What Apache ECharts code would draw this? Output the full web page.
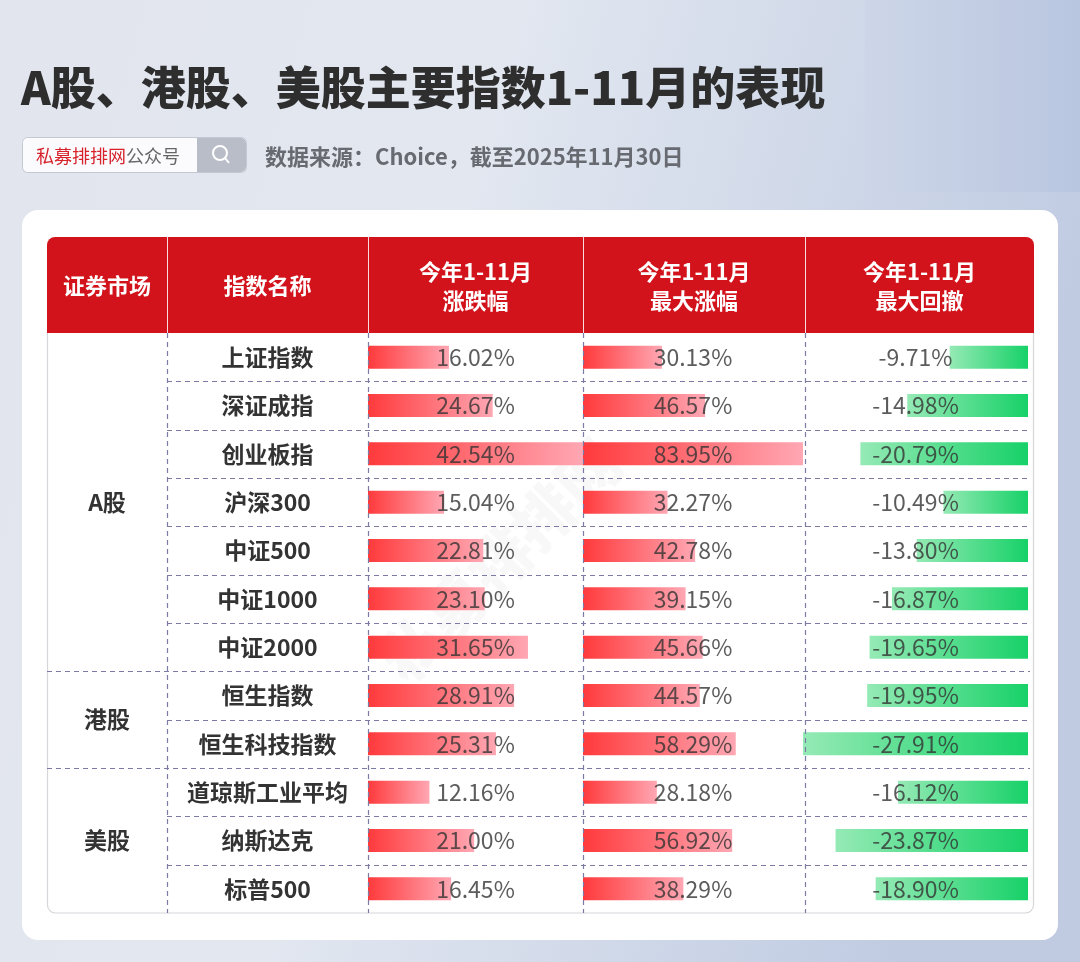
<!DOCTYPE html>
<html><head><meta charset="utf-8">
<script src="https://cdn.jsdelivr.net/npm/echarts@6/dist/echarts.min.js"></script>
<style>html,body{margin:0;padding:0;width:1080px;height:962px;overflow:hidden}#c{width:1080px;height:962px}</style>
</head><body><div id="c"></div>
<script>
// ---- data ----
const markets = ['A股', '港股', '美股'];
const marketCounts = [7, 2, 3];
const indexNames = ['上证指数', '深证成指', '创业板指', '沪深300', '中证500', '中证1000', '中证2000', '恒生指数', '恒生科技指数', '道琼斯工业平均', '纳斯达克', '标普500'];
const ytdChange = [16.02, 24.67, 42.54, 15.04, 22.81, 23.10, 31.65, 28.91, 25.31, 12.16, 21.00, 16.45];
const maxGain = [30.13, 46.57, 83.95, 32.27, 42.78, 39.15, 45.66, 44.57, 58.29, 28.18, 56.92, 38.29];
const maxDrawdown = [-9.71, -14.98, -20.79, -10.49, -13.80, -16.87, -19.65, -19.95, -27.91, -16.12, -23.87, -18.90];
const headers = ['证券市场', '指数名称', '今年1-11月\n涨跌幅', '今年1-11月\n最大涨幅', '今年1-11月\n最大回撤'];
const titleText = 'A股、港股、美股主要指数1-11月的表现';
const sourceText = '数据来源：Choice，截至2025年11月30日';

// ---- layout ----
const FONT = '"Noto Sans CJK SC", "Noto Sans", sans-serif';
const colX = [47, 167, 368, 583, 805, 1034];
const HEAD_T = 237, BODY_T = 333, BODY_B = 913;
const N = indexNames.length;
const ROWH = (BODY_B - BODY_T) / N;
const DASH = '#7b7ba6';

const chart = echarts.init(document.getElementById('c'), null, {renderer: 'canvas'});

const redGrad = new echarts.graphic.LinearGradient(0, 0, 1, 0, [
  {offset: 0, color: '#ff3a3c'}, {offset: 1, color: '#ffa7b3'}]);
const greenGrad = new echarts.graphic.LinearGradient(0, 0, 1, 0, [
  {offset: 0, color: '#95eab5'}, {offset: 1, color: '#17d168'}]);

const gridDefs = [
  {left: colX[2], width: colX[3] - colX[2], min: 0, max: Math.max(...ytdChange), vals: ytdChange, color: redGrad},
  {left: colX[3], width: 803 - colX[3], min: 0, max: Math.max(...maxGain), vals: maxGain, color: redGrad},
  {left: 803, width: 1028 - 803, min: Math.min(...maxDrawdown), max: 0, vals: maxDrawdown, color: greenGrad}
];

const grids = [], xAxes = [], yAxes = [], series = [];
gridDefs.forEach((g, k) => {
  grids.push({left: g.left, width: g.width, top: BODY_T, height: BODY_B - BODY_T, containLabel: false});
  xAxes.push({type: 'value', gridIndex: k, min: g.min, max: g.max, show: false});
  yAxes.push({
    type: 'category', gridIndex: k, data: indexNames, inverse: true,
    axisLine: {show: false}, axisTick: {show: false}, splitLine: {show: false},
    axisLabel: k === 0 ? {show: true, interval: 0, margin: colX[2] - (colX[1] + colX[2]) / 2, align: 'center',
      fontFamily: FONT, fontWeight: 'bold', fontSize: 23, color: '#333'} : {show: false}
  });
  series.push({
    type: 'bar', xAxisIndex: k, yAxisIndex: k, data: g.vals, barWidth: 23,
    itemStyle: {color: g.color}, silent: true, z: 3
  });
  const mid = (g.min + g.max) / 2;
  series.push({
    type: 'scatter', xAxisIndex: k, yAxisIndex: k, symbolSize: 0, silent: true, z: 5,
    itemStyle: {color: 'rgba(0,0,0,0)'},
    data: g.vals.map((v, i) => [mid, i, v]),
    label: {show: true, position: 'inside', formatter: p => p.value[2].toFixed(2) + '%',
      fontFamily: FONT, fontSize: 23, color: '#333'}
  });
});

// ---- graphics ----
const gfx = [];
// page background
gfx.push({type: 'rect', shape: {x: 0, y: 0, width: 1080, height: 962}, z: -10,
  style: {fill: new echarts.graphic.LinearGradient(0, 0, 1, 0.3, [
    {offset: 0, color: '#e2e5ee'}, {offset: 0.45, color: '#e2e7f0'}, {offset: 0.7, color: '#d3dbea'}, {offset: 1, color: '#c0cbe2'}])}});
gfx.push({type: 'rect', shape: {x: 865, y: 0, width: 215, height: 192}, z: -9,
  style: {fill: new echarts.graphic.LinearGradient(0, 0, 1, 0, [
    {offset: 0, color: '#cdd6e8'}, {offset: 1, color: '#b9c6e0'}])}});
// title
gfx.push({type: 'text', x: 21, y: 88, z: 1, style: {text: titleText, fontFamily: FONT, fontWeight: 900, fontSize: 45,
  fill: '#2e2e2e', verticalAlign: 'middle'}});
// search box
gfx.push({type: 'rect', shape: {x: 22.5, y: 137.5, width: 224, height: 35, r: 5}, z: 1,
  style: {fill: '#fbfbfd', stroke: '#c4c8d2', lineWidth: 1}});
gfx.push({type: 'rect', shape: {x: 197, y: 138, width: 49, height: 34, r: [0, 5, 5, 0]}, z: 1,
  style: {fill: '#b9bdc7'}});
gfx.push({type: 'circle', shape: {cx: 220, cy: 153, r: 7}, z: 2, style: {fill: 'none', stroke: '#fff', lineWidth: 2}});
gfx.push({type: 'line', shape: {x1: 225, y1: 158, x2: 229, y2: 163}, z: 2, style: {stroke: '#fff', lineWidth: 2}});
gfx.push({type: 'text', x: 36, y: 156, z: 2, style: {
  text: '{r|私募排排网}{g|公众号}', verticalAlign: 'middle',
  rich: {r: {fontFamily: FONT, fontSize: 18, fill: '#d7222c', color: '#d7222c'},
         g: {fontFamily: FONT, fontSize: 18, fill: '#666', color: '#666'}}}});
gfx.push({type: 'text', x: 265, y: 157, z: 1, style: {text: sourceText, fontFamily: FONT, fontWeight: 'bold', fontSize: 22,
  fill: '#676a70', verticalAlign: 'middle'}});
// card
gfx.push({type: 'rect', shape: {x: 22, y: 210, width: 1036, height: 730, r: 16}, z: 0, style: {fill: '#ffffff'}});
// table body border
gfx.push({type: 'rect', shape: {x: colX[0] + 0.5, y: HEAD_T + 10, width: colX[5] - colX[0] - 1, height: BODY_B - HEAD_T - 10, r: 8}, z: 0,
  style: {fill: '#ffffff', stroke: '#d6d6da', lineWidth: 1.2}});
// header
gfx.push({type: 'rect', shape: {x: colX[0], y: HEAD_T, width: colX[5] - colX[0], height: BODY_T - HEAD_T, r: [8, 8, 0, 0]}, z: 6,
  style: {fill: '#d2131b'}});
for (let c = 1; c < 5; c++) {
  gfx.push({type: 'line', shape: {x1: colX[c] + 0.5, y1: HEAD_T, x2: colX[c] + 0.5, y2: BODY_T}, z: 7,
    style: {stroke: 'rgba(255,255,255,0.85)', lineWidth: 1}});
}
headers.forEach((h, c) => {
  gfx.push({type: 'text', x: (colX[c] + colX[c + 1]) / 2, y: (HEAD_T + BODY_T) / 2 + 1, z: 8,
    style: {text: h, fontFamily: FONT, fontWeight: 'bold', fontSize: 22, lineHeight: 29, fill: '#ffffff',
      align: 'center', verticalAlign: 'middle'}});
});
// dashed horizontal lines
let boundaries = [];
let acc = 0;
marketCounts.forEach(n => { acc += n; boundaries.push(acc); });
for (let r = 1; r < N; r++) {
  const y = Math.round(BODY_T + r * ROWH) + 0.5;
  const x1 = boundaries.includes(r) ? colX[0] : colX[1];
  gfx.push({type: 'line', shape: {x1: x1, y1: y, x2: colX[5] - 4, y2: y}, z: 4,
    style: {stroke: DASH, lineWidth: 1.2, lineDash: [5, 4]}});
}
// dashed vertical lines
for (let c = 1; c < 5; c++) {
  gfx.push({type: 'line', shape: {x1: colX[c] + 0.5, y1: BODY_T, x2: colX[c] + 0.5, y2: BODY_B}, z: 4,
    style: {stroke: DASH, lineWidth: 1.2, lineDash: [5, 4]}});
}
// market labels
acc = 0;
markets.forEach((m, k) => {
  const yc = BODY_T + (acc + marketCounts[k] / 2) * ROWH;
  acc += marketCounts[k];
  gfx.push({type: 'text', x: (colX[0] + colX[1]) / 2, y: yc, z: 5,
    style: {text: m, fontFamily: FONT, fontWeight: 'bold', fontSize: 23, fill: '#333', align: 'center', verticalAlign: 'middle'}});
});
// watermark
gfx.push({type: 'text', x: 500, y: 560, rotation: Math.PI / 4, z: 1,
  style: {text: '私募排排网', fontFamily: FONT, fontWeight: 900, fontSize: 62, fill: 'rgba(170,170,180,0.08)',
    align: 'center', verticalAlign: 'middle'}});

chart.setOption({
  animation: false,
  backgroundColor: 'transparent',
  grid: grids, xAxis: xAxes, yAxis: yAxes, series: series,
  graphic: {elements: gfx}
});
</script></body></html>
